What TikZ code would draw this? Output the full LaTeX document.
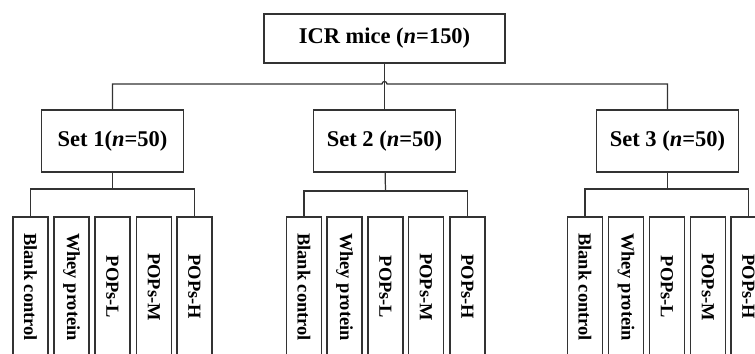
\documentclass[tikz,border=0pt]{standalone}
\usepackage{fontspec}
\setmainfont{Liberation Serif}
\usepackage{graphicx}

\begin{document}
\begin{tikzpicture}[
        x=0.02cm, y=-0.02cm,
        line width=0.7pt, draw=black!80,
        root/.style={draw, minimum width=4.82cm, minimum height=0.98cm, font=\fontsize{12.8}{15}\selectfont\bfseries},
        group/.style={draw, minimum width=2.84cm, minimum height=1.24cm, font=\fontsize{12.8}{15}\selectfont\bfseries},
        leaf/.style={draw, minimum width=0.7cm, minimum height=2.8cm, inner sep=0pt, font=\fontsize{10.5}{12}\selectfont\bfseries},
        link/.style={draw=black!80, line width=0.7pt}
    ]
        \clip (0,0) rectangle (755,354);

        % Mice
        \node[root] (icr) at (384.5,38.5) {ICR mice (\textit{n}=150)};

        % Sets
        \node[group] (set1) at (112.5,141) {Set 1(\textit{n}=50)};
        \node[group] (set2) at (384.5,141) {Set 2 (\textit{n}=50)};
        \node[group] (set3) at (667.5,141) {Set 3 (\textit{n}=50)};

        % Groups of set 1
        \node[leaf] (b1) at (30.5,287) {\rotatebox{-90}{Blank control}};
        \node[leaf] (w1) at (71.5,287) {\rotatebox{-90}{Whey protein}};
        \node[leaf] (l1) at (112.5,287) {\rotatebox{-90}{POPs-L}};
        \node[leaf] (m1) at (154,287) {\rotatebox{-90}{POPs-M}};
        \node[leaf] (h1) at (194.5,287) {\rotatebox{-90}{POPs-H}};

        % Groups of set 2
        \node[leaf] (b2) at (304,287) {\rotatebox{-90}{Blank control}};
        \node[leaf] (w2) at (344.5,287) {\rotatebox{-90}{Whey protein}};
        \node[leaf] (l2) at (385.5,287) {\rotatebox{-90}{POPs-L}};
        \node[leaf] (m2) at (426,287) {\rotatebox{-90}{POPs-M}};
        \node[leaf] (h2) at (467.5,287) {\rotatebox{-90}{POPs-H}};

        % Groups of set 3
        \node[leaf] (b3) at (585,287) {\rotatebox{-90}{Blank control}};
        \node[leaf] (w3) at (626,287) {\rotatebox{-90}{Whey protein}};
        \node[leaf] (l3) at (667,287) {\rotatebox{-90}{POPs-L}};
        \node[leaf] (m3) at (708,287) {\rotatebox{-90}{POPs-M}};
        \node[leaf] (h3) at (748.5,287) {\rotatebox{-90}{POPs-H}};

        % Junctions
        \coordinate (hub) at (384.5,84);
        \coordinate (j1) at (112.5,189);
        \coordinate (j2) at (385.5,191);
        \coordinate (j3) at (667.5,189);

        % Mice to sets (small hop where the lines cross)
        \draw[link] (icr) -- (set2);
        \draw[link] (set1.north) |- ([xshift=-0.05cm]hub) arc (180:0:0.05cm) -| (set3.north);

        % Sets to groups
        \draw[link] (set1) -- (j1);
        \draw[link] (b1.north) |- (j1) -| (h1.north);
        \draw[link] (set2) -- (j2);
        \draw[link] (b2.north) |- (j2) -| (h2.north);
        \draw[link] (set3) -- (j3);
        \draw[link] (b3.north) |- (j3) -| (h3.north);
    \end{tikzpicture}
\end{document}
